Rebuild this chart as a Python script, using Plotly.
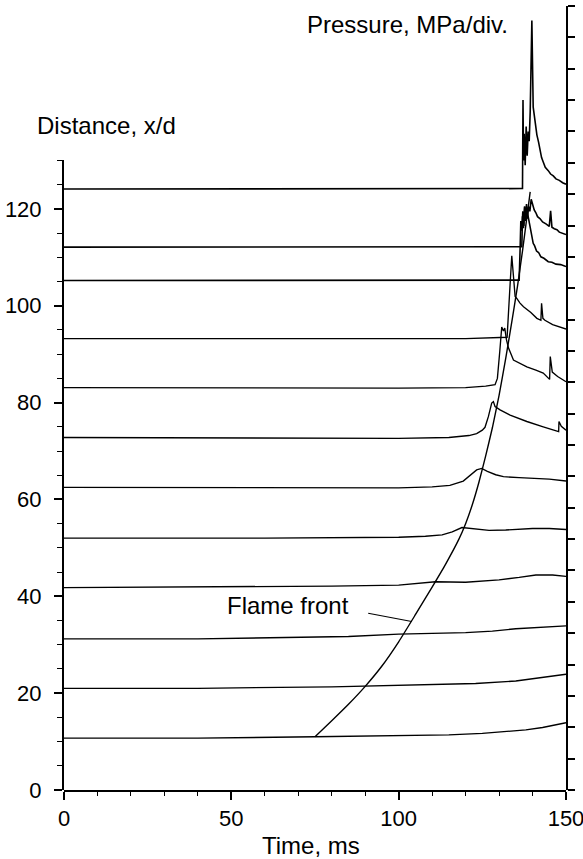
import plotly.graph_objects as go

# ---------------------------------------------------------------------------
# Pressure records from the wall gauges, drawn offset at each gauge station.
# Each record: time (ms) and trace level in x/d units (station + deflection).
# ---------------------------------------------------------------------------
t_x10 = [0, 40, 75, 100, 115, 125, 132, 138, 143, 147, 150]
y_x10 = [10.7, 10.7, 11.0, 11.2, 11.4, 11.7, 12.0, 12.4, 12.9, 13.4, 13.9]

t_x21 = [0, 40, 80, 100, 123, 135, 142, 147, 150]
y_x21 = [21.0, 21.0, 21.3, 21.6, 22.0, 22.5, 23.1, 23.5, 23.9]

t_x31 = [0, 40, 85, 100, 120, 128, 135, 142, 150]
y_x31 = [31.2, 31.2, 31.7, 32.2, 32.5, 32.8, 33.3, 33.6, 33.9]

t_x42 = [0, 40, 80, 100, 111, 120, 130, 136, 141, 146, 150]
y_x42 = [41.8, 41.9, 42.1, 42.3, 43.0, 42.9, 43.4, 43.9, 44.4, 44.4, 44.1]

t_x52 = [0, 60, 100, 108, 113, 116, 118.9, 122, 127, 132, 140, 145, 150]
y_x52 = [52.0, 52.0, 52.2, 52.4, 52.7, 53.3, 54.2, 54.0, 53.6, 53.7, 54.0, 54.0, 53.8]

t_x63 = [0, 50, 100, 110, 115.3, 119.3, 121.5, 123.3, 124.8, 126.5, 129, 131.3,
         136, 140.2, 145, 150]
y_x63 = [62.5, 62.5, 62.4, 62.6, 62.9, 63.8, 65.0, 66.1, 66.4, 65.8, 65.1, 64.7,
         64.5, 64.4, 64.2, 63.8]

t_x73 = [0, 60, 100, 115, 121, 123.3, 125, 125.8, 126.8, 127.8, 128.3, 128.8,
         130.3, 133.3, 138.3, 143.2, 147.8, 147.9, 148.6, 150]
y_x73 = [72.8, 72.7, 72.6, 72.8, 73.2, 73.6, 74.3, 74.9, 77.1, 79.9, 80.2, 79.2,
         78.5, 77.4, 76.1, 75.0, 74.0, 76.1, 75.1, 74.3]

t_x83 = [0, 60, 100, 120, 126, 128.8, 129.5, 130.2, 130.8, 131.3, 131.7, 132.2,
         132.8, 134.3, 136, 138.3, 141, 143.2, 145.1, 145.3, 145.9, 147.5, 150]
y_x83 = [83.1, 83.0, 83.0, 83.1, 83.4, 83.7, 85.0, 90.5, 95.6, 94.8, 95.4, 93.0,
         91.3, 88.8, 88.2, 87.4, 86.7, 86.1, 84.8, 89.5, 86.3, 85.4, 84.3]

t_x93 = [0, 60, 120, 132.4, 132.8, 133.3, 133.8, 134.3, 134.8, 135.3, 136.2,
         137.3, 139.5, 141.3, 142.5, 142.7, 143.1, 143.7, 146, 150]
y_x93 = [93.2, 93.2, 93.2, 93.5, 97.5, 104.5, 110.3, 106.0, 101.9, 101.5, 100.6,
         99.8, 98.6, 97.4, 97.0, 100.5, 97.4, 97.0, 96.1, 95.2]

t_x105 = [0, 60, 120, 136.0, 136.3, 136.5, 136.8, 137.1, 137.4, 137.7, 138.0,
          138.3, 138.7, 139.1, 139.5, 140.2, 140.6, 141.2, 141.8, 142.5, 143.4,
          144.7, 145.8, 147, 148.4, 150]
y_x105 = [105.2, 105.2, 105.2, 105.3, 112.0, 117.5, 115.5, 119.5, 116.5, 120.5,
          117.5, 119.5, 118.4, 117.0, 115.5, 112.9, 112.4, 111.3, 111.0, 110.1,
          109.8, 109.1, 109.0, 108.6, 108.5, 108.1]

t_x112 = [0, 60, 120, 136.8, 137.0, 137.3, 137.6, 137.9, 138.2, 138.5, 138.8,
          139.2, 139.6, 140.0, 140.5, 141.0, 141.5, 142.2, 143.0, 144.0, 145.0,
          145.4, 145.8, 146.5, 147.3, 148.0, 149.0, 150.0]
y_x112 = [112.1, 112.1, 112.1, 112.2, 118.5, 116.0, 120.5, 117.5, 121.0, 118.0,
          120.5, 119.5, 122.0, 121.0, 119.8, 119.2, 118.4, 118.0, 117.3, 116.9,
          116.4, 119.6, 116.2, 115.9, 115.7, 115.2, 115.0, 114.7]

t_x124 = [0, 60, 120, 137.0, 137.15, 137.3, 137.5, 137.8, 138.1, 138.4, 138.7,
          139.0, 139.3, 139.5, 139.65, 139.8, 140.2, 140.8, 141.3, 141.8, 142.2,
          142.7, 143.2, 143.8, 144.7, 145.4, 146.2, 147.0, 148.0, 149.0, 150.0]
y_x124 = [124.1, 124.1, 124.1, 124.2, 142.5, 130.0, 135.5, 129.0, 137.0, 131.0,
          136.0, 134.0, 140.0, 149.0, 147.0, 158.9, 141.0, 137.5, 135.3, 133.8,
          132.3, 130.6, 129.7, 128.6, 127.9, 127.2, 126.8, 126.2, 125.9, 125.4,
          125.1]

# Flame-front trajectory (time of arrival vs. station)
flame_t = [75.0, 80.0, 85.0, 90.0, 95.0, 100.0, 105.0, 110.0, 114.0, 118.0,
           120.0, 122.0, 124.0, 126.0, 128.0, 130.0, 132.0, 134.0, 135.5,
           137.0, 139.3]
flame_xd = [11.0, 14.3, 17.7, 21.4, 25.6, 30.6, 36.2, 41.9, 46.6, 51.8,
            55.0, 58.9, 63.6, 69.0, 74.8, 81.5, 89.2, 97.5, 104.0,
            111.3, 123.5]

# Axis ticks
x_ticks = [0, 50, 100, 150]
y_ticks = [0, 20, 40, 60, 80, 100, 120]

records = [
    (t_x10, y_x10), (t_x21, y_x21), (t_x31, y_x31), (t_x42, y_x42),
    (t_x52, y_x52), (t_x63, y_x63), (t_x73, y_x73), (t_x83, y_x83),
    (t_x93, y_x93), (t_x105, y_x105), (t_x112, y_x112), (t_x124, y_x124),
]

Y_TOP = 161.9      # x/d value at the top of the plotting frame
XD_AXIS_TOP = 130  # left axis stops here
N_DIV = 25         # pressure divisions on the right-hand scale

FONT = "Liberation Sans, Arial, Helvetica, sans-serif"

fig = go.Figure()

for i, (tt, yy) in enumerate(records):
    fig.add_trace(go.Scatter(
        x=tt, y=yy, mode="lines",
        line=dict(color="black", width=1.6 if i >= 9 else 1.35),
        hoverinfo="skip", showlegend=False,
    ))

fig.add_trace(go.Scatter(
    x=flame_t, y=flame_xd, mode="lines",
    line=dict(color="black", width=1.4, shape="spline", smoothing=0.5),
    hoverinfo="skip", showlegend=False,
))

# placeholders so the distance and pressure scales are rendered
fig.add_trace(go.Scatter(x=[None], y=[None], yaxis="y2", hoverinfo="skip",
                         showlegend=False))
fig.add_trace(go.Scatter(x=[None], y=[None], yaxis="y3", hoverinfo="skip",
                         showlegend=False))

tickfont = dict(family=FONT, size=22, color="black")
labelfont = dict(family=FONT, size=24, color="black")

fig.update_layout(
    width=583, height=859,
    margin=dict(l=64, r=17, t=6, b=69, autoexpand=False),
    plot_bgcolor="rgba(0,0,0,0)", paper_bgcolor="white",
    showlegend=False,
    xaxis=dict(
        range=[0, 150], domain=[0, 1], anchor="y", automargin=False,
        showline=True, linecolor="black", linewidth=2,
        ticks="outside", ticklen=8, tickwidth=1.5, tickcolor="black",
        tickvals=x_ticks, tickfont=tickfont, ticklabeloverflow="allow",
        minor=dict(dtick=10, ticks="outside", ticklen=4, tickwidth=1.2,
                   tickcolor="black", showgrid=False),
        showgrid=False, zeroline=False,
    ),
    yaxis=dict(range=[0, Y_TOP], domain=[0, 1], visible=False,
               automargin=False, showgrid=False, zeroline=False),
    yaxis2=dict(
        range=[0, XD_AXIS_TOP], domain=[0, XD_AXIS_TOP / Y_TOP], anchor="x",
        side="left", automargin=False,
        showline=True, linecolor="black", linewidth=2,
        ticks="outside", ticklen=8, tickwidth=1.5, tickcolor="black",
        tickvals=y_ticks, tickfont=tickfont, ticklabelstandoff=8,
        minor=dict(dtick=5, ticks="outside", ticklen=5, tickwidth=1.2,
                   tickcolor="black", showgrid=False),
        showgrid=False, zeroline=False,
    ),
    yaxis3=dict(
        range=[0, N_DIV], domain=[0, 1], anchor="x", side="right",
        automargin=False,
        showline=True, linecolor="black", linewidth=2,
        ticks="outside", ticklen=7, tickwidth=1.5, tickcolor="black",
        dtick=1, showticklabels=False,
        showgrid=False, zeroline=False,
    ),
    annotations=[
        dict(text="Flame front", x=66.9, y=38.0, xref="x", yref="y",
             showarrow=False, font=labelfont),
        dict(text="Pressure, MPa/div.", x=0.684, y=0.977, xref="paper",
             yref="paper", showarrow=False, font=labelfont,
             xanchor="center", yanchor="middle"),
        dict(text="Distance, x/d", x=0.085, y=0.848, xref="paper",
             yref="paper", showarrow=False, font=labelfont,
             xanchor="center", yanchor="middle"),
        dict(text="Time, ms", x=0.493, y=-0.0702, xref="paper",
             yref="paper", showarrow=False, font=labelfont,
             xanchor="center", yanchor="middle"),
    ],
    shapes=[
        # leader from the label to the flame-front curve
        dict(type="line", xref="x", yref="y", x0=90.9, y0=36.5, x1=103.9,
             y1=34.8, line=dict(color="black", width=1.2)),
    ],
)

fig.write_html("out.html", config=dict(displayModeBar=False))
